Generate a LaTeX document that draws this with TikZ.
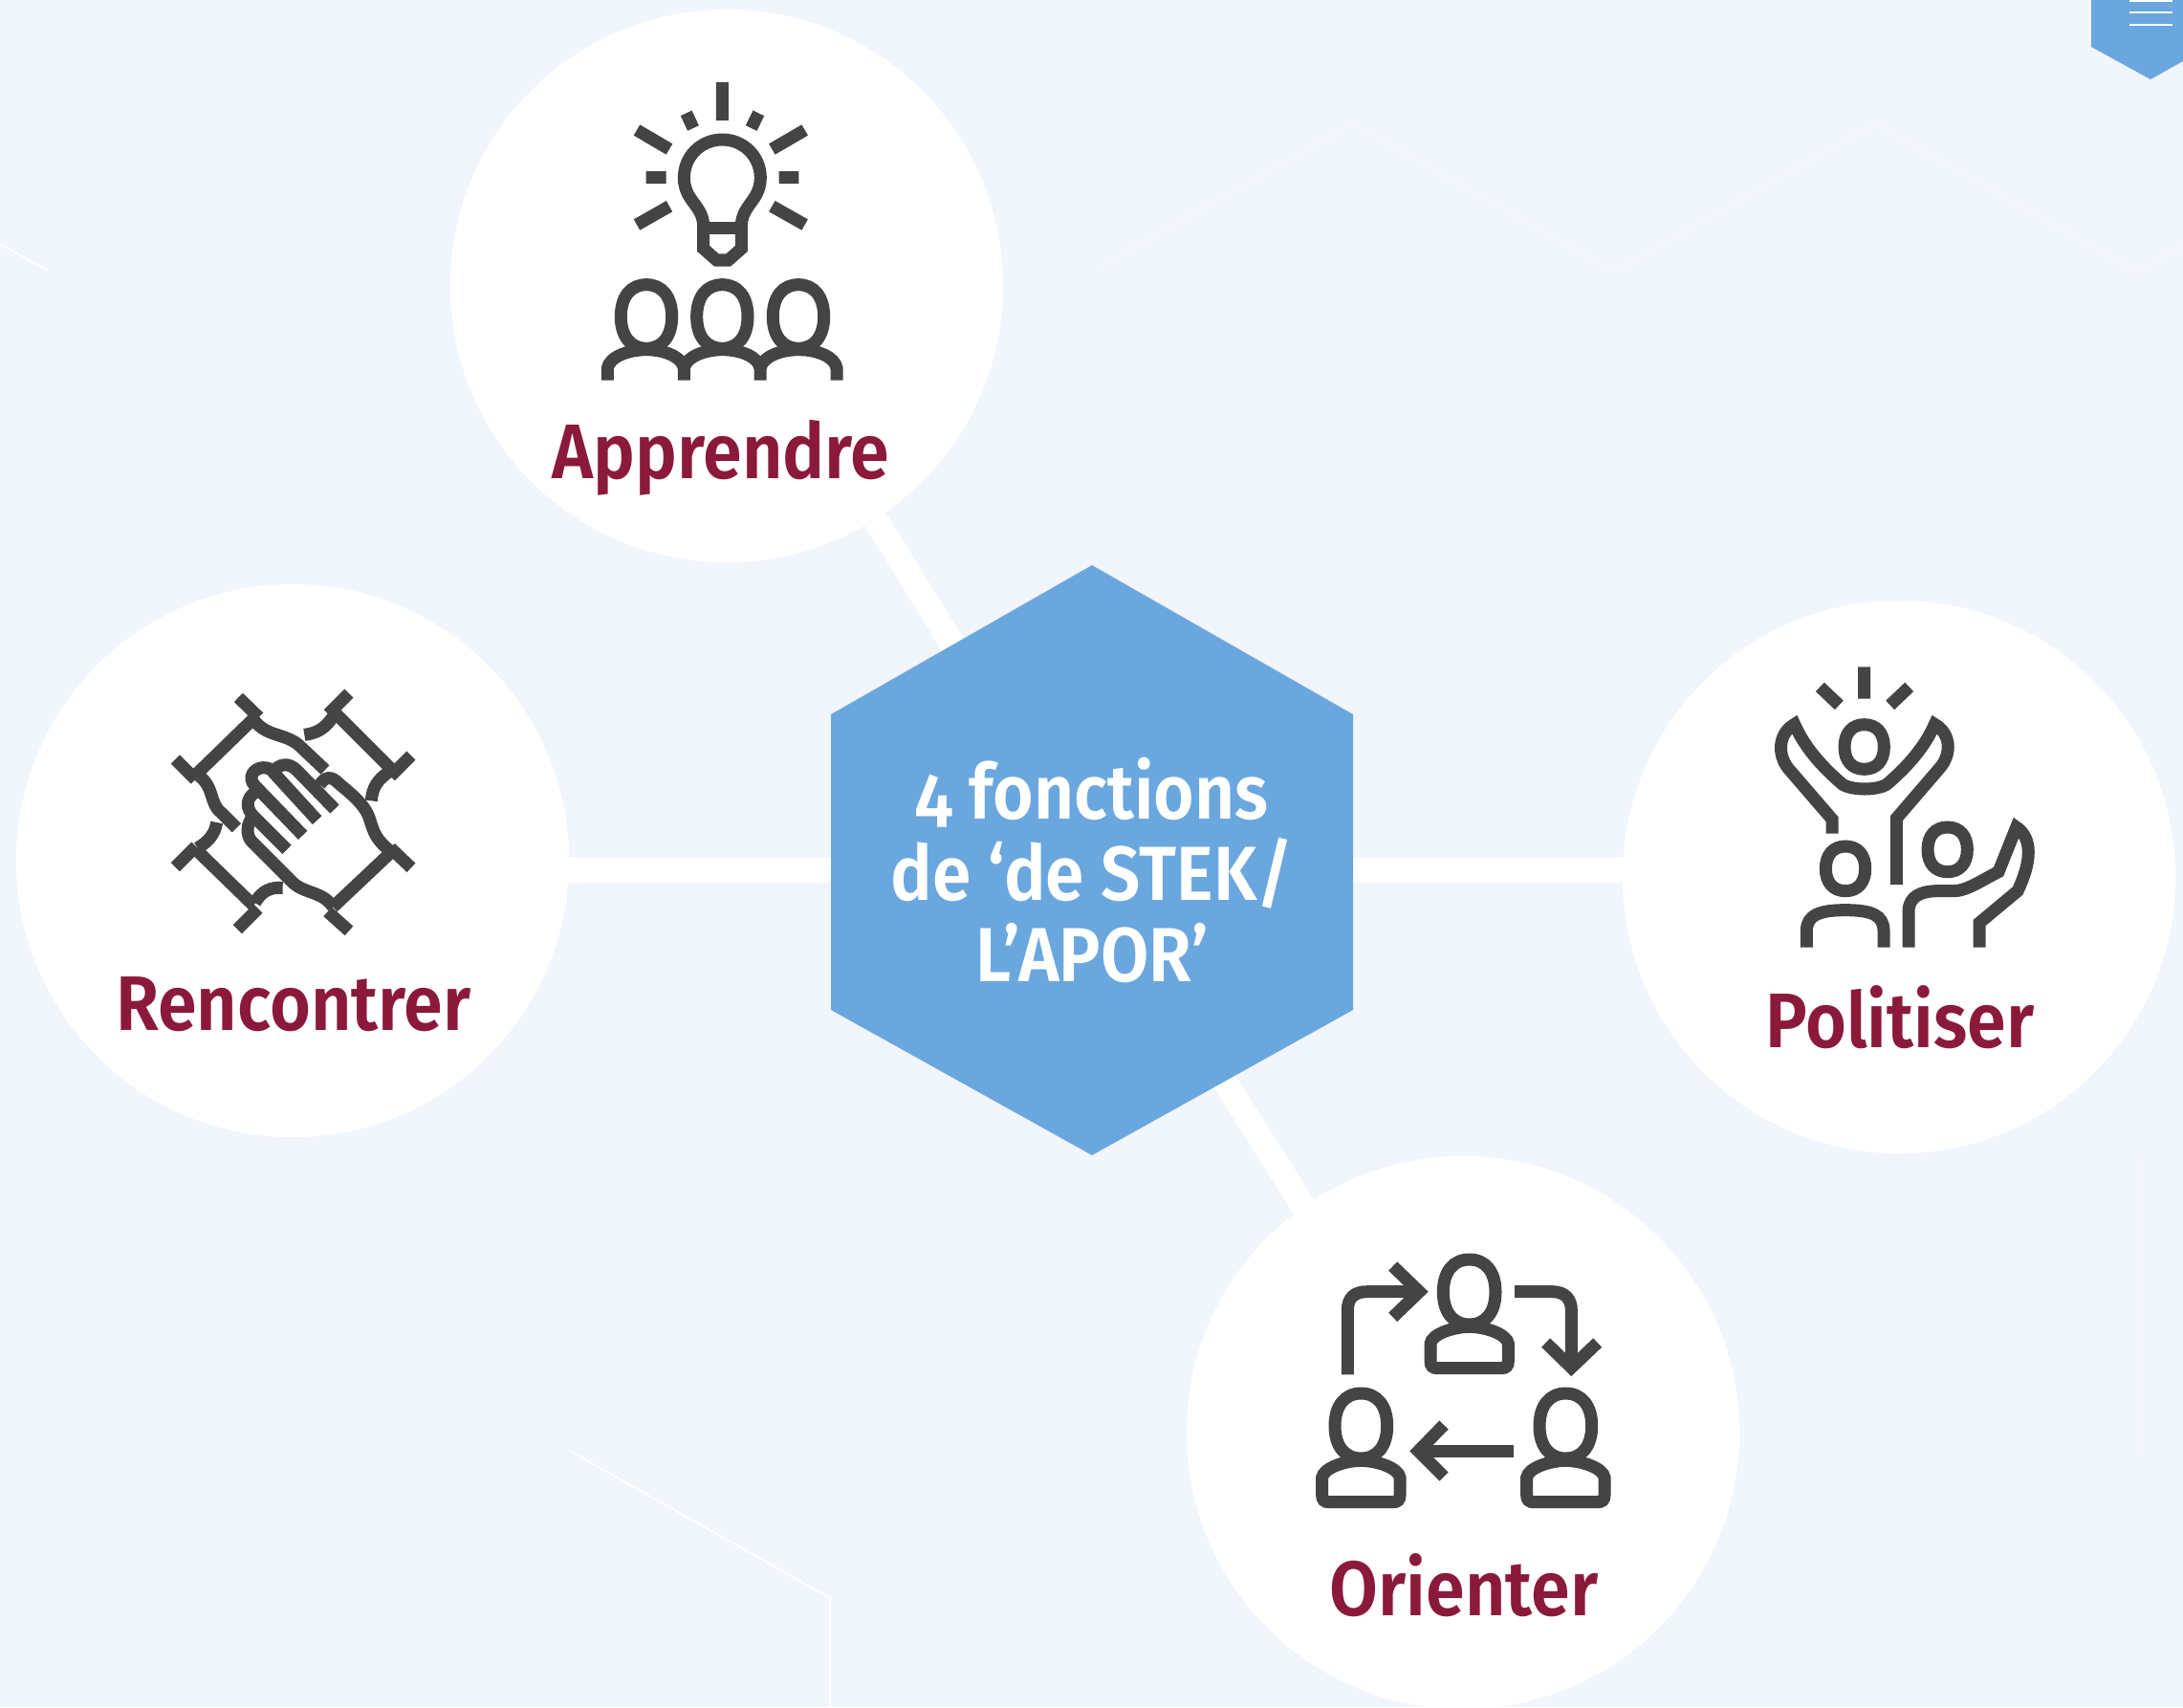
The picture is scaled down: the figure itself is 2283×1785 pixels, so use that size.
\documentclass[tikz,border=0pt]{standalone}
\usepackage{fontspec}
\setmainfont[FakeStretch=0.91,Numbers=OldStyle,BoldFont={Fira Sans SemiBold}]{Fira Sans}
\usetikzlibrary{calc,backgrounds}
\definecolor{bgcol}{HTML}{F1F5FC}
\definecolor{hexcol}{HTML}{6AA7DE}
\definecolor{wine}{HTML}{8B1A3A}
\definecolor{iconcol}{HTML}{444444}
\definecolor{faint}{HTML}{F6F9FE}
\tikzset{
  bubble/.style={circle,fill=white,minimum size=5.78cm,inner sep=0pt},
  link/.style={white,line width=7.4pt},
  icon/.style={draw=iconcol,line width=3.7pt,line join=miter,miter limit=6},
  ghost/.style={faint,line width=0.4pt},
  fname/.style={anchor=base,text=wine,font=\bfseries\fontsize{23}{27}\selectfont,inner sep=0pt},
  hubtext/.style={align=center,text=white,inner sep=0pt,font=\bfseries\fontsize{22.8}{24.2}\selectfont},
}
% rounded oval for heads: centre, rx, ry (in the current scope's units)
\newcommand{\ovalhead}[4]{\draw[icon,shift={(#1,#2)},xscale=#3,yscale=#4]
  (-1,0) .. controls (-1,-.62) and (-.62,-1) .. (0,-1) .. controls (.62,-1) and (1,-.62) .. (1,0)
  .. controls (1,.62) and (.62,1) .. (0,1) .. controls (-.62,1) and (-1,.62) .. (-1,0) -- cycle;}
\newcommand{\flowperson}[2]{\begin{scope}[shift={(#1,#2)}]
  \ovalhead{560}{183}{82}{102}
  \draw[icon] (438,345) .. controls (442,315) and (510,292) .. (560,292) .. controls (610,292) and (678,315) .. (682,345)
    -- (682,400) .. controls (682,415) and (675,422) .. (660,422) -- (460,422) .. controls (445,422) and (438,415) .. (438,400) -- cycle;
\end{scope}}
\begin{document}
\begin{tikzpicture}[x=0.01cm,y=-0.01cm]
\useasboundingbox (0,0) rectangle (2283,1785);
% bubbles
\node[bubble] (apprendre) at (760,299) {};
\node[bubble] (rencontrer) at (306,900) {};
\node[bubble] (politiser) at (1986,917) {};
\node[bubble] (orienter) at (1530,1498) {};
% hub
\fill[hexcol] (1142,591) -- (1415,747) -- (1415,1056) -- (1142,1208) -- (869,1056) -- (869,747) -- cycle;
\node[hubtext] (hub) at (1142,910) {4 fonctions\\de ‘de STEK/\\L’APOR’};
% background and connectors
\begin{pgfonlayer}{background}
\fill[bgcol] (0,0) rectangle (2283,1785);
\draw[ghost] (1150,279) -- (1415,129) -- (1688,284) -- (1961,129) -- (2234,284) -- (2283,257);
\draw[ghost,white,line width=0.5pt] (596,1517) -- (868,1671) -- (868,1785);
\draw[ghost,white,line width=0.5pt] (0,255) -- (50,283);
\draw[ghost,line width=0.3pt] (2235,1210) -- (2235,1520);
\draw[link] ($(rencontrer)+(0,10)$) -- (hub);
\draw[link] ($(politiser)+(0,-7)$) -- (hub);
\draw[link] ($(apprendre)+(4,-1)$) -- (hub);
\draw[link] ($(orienter)+(-18,0)$) -- (hub);
\end{pgfonlayer}
% menu badge
\fill[hexcol] (2187,0) -- (2187,49) -- (2249,83) -- (2283,64) -- (2283,0) -- cycle;
\foreach \yy in {1,13,26} \draw[white,line width=0.8pt] (2227,\yy) -- (2272,\yy);
% labels
\node[fname] (tA) at (754,500) {Apprendre};
\node[fname] (tR) at (307,1077) {Rencontrer};
\node[fname] (tP) at (1987,1095) {Politiser};
\node[fname] (tO) at (1531,1689) {Orienter};
% icon: bulb and people
\begin{scope}[shift={(580,60)},scale=1/3]
 \draw[icon] (526,78) -- (526,198) (413,175) -- (435,222) (640,175) -- (617,222)
   (258,228) -- (360,288) (785,228) -- (682,288) (287,377) -- (350,377) (704,377) -- (766,377)
   (258,525) -- (360,467) (785,525) -- (682,467);
 \draw[icon] (467,600) -- (467,530) .. controls (467,490) and (445,470) .. (425,440) .. controls (412,420) and (406,400) .. (406,378)
   .. controls (406,310) and (460,258) .. (526,258) .. controls (592,258) and (646,310) .. (646,378)
   .. controls (646,400) and (640,420) .. (627,440) .. controls (607,470) and (586,490) .. (586,530) -- (586,600) -- (545,636) -- (508,636) -- cycle;
 \draw[icon] (467,535) -- (586,535);
 \foreach \cx in {288,526,765} {\ovalhead{\cx}{813}{80}{100}}
 \draw[icon] (166,1013) -- (166,975) .. controls (172,940) and (230,917) .. (288,917) .. controls (345,917) and (400,940) .. (406,975) -- (406,1013);
 \draw[icon] (406,975) .. controls (412,940) and (470,917) .. (526,917) .. controls (585,917) and (640,940) .. (645,975) -- (645,1013);
 \draw[icon] (645,975) .. controls (652,940) and (708,917) .. (765,917) .. controls (825,917) and (880,940) .. (885,975) -- (885,1013);
\end{scope}
% icon: joined hands
\begin{scope}[shift={(150,690)},scale=1/3]
 \draw[icon] (298,118) -- (362,180) (100,312) -- (163,375) (345,185) -- (170,355);
 \draw[icon] (348,190) .. controls (385,240) and (440,230) .. (485,265) -- (570,345);
 \draw[icon] (172,362) .. controls (225,400) and (205,450) .. (245,480) -- (292,527);
 \draw[icon] (645,105) -- (580,170) (840,300) -- (775,365) (605,170) -- (775,340);
 \draw[icon] (595,178) .. controls (570,215) and (545,230) .. (505,235);
 \draw[icon] (772,350) .. controls (735,375) and (718,400) .. (715,442);
 \draw[icon] (840,652) -- (775,590) (645,850) -- (578,790) (770,610) -- (595,775);
 \draw[icon] (100,650) -- (165,585) (295,845) -- (360,780) (165,595) -- (345,770);
 \draw[icon] (170,590) .. controls (205,570) and (225,545) .. (230,510);
 \draw[icon] (350,762) .. controls (370,725) and (400,712) .. (437,715);
 \draw[icon] (775,600) .. controls (730,565) and (722,540) .. (710,500) .. controls (695,450) and (640,412) .. (610,385)
   .. controls (590,365) and (570,365) .. (553,392);
 \draw[icon] (600,468) -- (480,345) .. controls (455,322) and (430,325) .. (405,350);
 \draw[icon] (405,350) -- (545,503);
 \draw[icon] (500,550) -- (350,395) .. controls (325,370) and (345,340) .. (375,338) .. controls (390,338) and (400,342) .. (405,350);
 \draw[icon] (450,595) -- (345,490) .. controls (320,465) and (322,432) .. (352,415);
 \draw[icon] (345,490) .. controls (322,515) and (322,550) .. (340,570) -- (470,700) .. controls (510,735) and (560,725) .. (595,775);
\end{scope}
% icon: raised arms
\begin{scope}[shift={(1820,680)},scale=1/3]
 \draw[icon] (389,52) -- (389,152) (250,115) -- (310,172) (530,115) -- (470,172);
 \ovalhead{389}{303}{62}{70}
 \draw[icon] (288,575) -- (288,530) -- (150,370) .. controls (115,325) and (120,260) .. (170,232)
   .. controls (200,300) and (250,360) .. (320,420) .. controls (350,440) and (430,440) .. (460,420)
   .. controls (530,360) and (580,300) .. (610,232) .. controls (660,260) and (665,325) .. (625,370)
   -- (490,527) -- (490,735);
 \ovalhead{330}{685}{62}{70}
 \draw[icon] (208,932) -- (208,880) .. controls (208,830) and (250,815) .. (330,815) .. controls (410,815) and (450,830) .. (450,880) -- (450,932);
 \ovalhead{650}{625}{62}{70}
 \draw[icon] (528,932) -- (528,820) .. controls (528,770) and (570,755) .. (620,755) -- (670,755)
   .. controls (710,755) and (760,720) .. (810,695) -- (866,555) .. controls (905,580) and (925,640) .. (870,755) -- (750,855) -- (750,932);
\end{scope}
% icon: cycle of people
\begin{scope}[shift={(1350,1290)},scale=1/3]
 \flowperson{0}{0}
 \flowperson{-340}{420}
 \flowperson{302}{420}
 \draw[icon] (178,442) -- (178,240) .. controls (178,200) and (200,182) .. (240,182) -- (400,182);
 \draw[icon] (320,102) -- (403,182) -- (320,262);
 \draw[icon] (702,182) -- (820,182) .. controls (860,182) and (880,205) .. (880,240) -- (880,420);
 \draw[icon] (800,342) -- (880,420) -- (962,342);
 \draw[icon] (700,682) -- (410,682);
 \draw[icon] (480,600) -- (400,682) -- (480,762);
\end{scope}
\end{tikzpicture}
\end{document}
